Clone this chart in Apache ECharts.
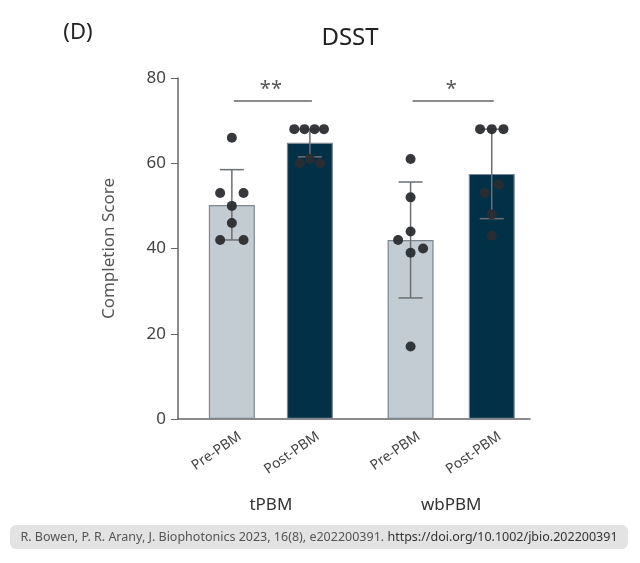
<!DOCTYPE html>
<html><head><meta charset="utf-8">
<script src="https://cdn.jsdelivr.net/npm/echarts@6/dist/echarts.min.js"></script>
<style>body{margin:0;background:#fff}#c{width:640px;height:563px}</style>
</head><body><div id="c"></div>
<script>
// data
var categories = ['Pre-PBM', 'Post-PBM', 'Pre-PBM', 'Post-PBM']
var groups = ['tPBM', 'wbPBM']
var xPos = [1, 2, 3.29, 4.33]
var means = [50.2, 64.8, 42, 57.5]
var errLow = [42, 61.5, 28.4, 47]
var errHigh = [58.5, 68, 55.6, 68]
var points = [
    [[0, 66], [-0.15, 53], [0.15, 53], [0, 50], [0, 46], [-0.15, 42], [0.15, 42]],
    [[-0.2, 68], [-0.07, 68], [0.06, 68], [0.18, 68], [-0.13, 60], [0.13, 60], [0, 61]],
    [[0, 61], [0, 52], [0, 44], [-0.16, 42], [0.16, 40], [0, 39], [0, 17]],
    [[-0.15, 68], [0, 68], [0.15, 68], [0.09, 55], [-0.09, 53], [0, 48], [0, 43]]
]
var colors = ['#c3cbd3', '#023047', '#c3cbd3', '#023047']

var chart = echarts.init(document.getElementById('c'))
var font = 'Noto Sans'
var barData = xPos.map(function (x, i) {
    return { value: [x, means[i]], itemStyle: { color: colors[i] } }
})
var dots = []
points.forEach(function (arr, i) {
    arr.forEach(function (p) { dots.push([xPos[i] + p[0], p[1]]) })
})
var errData = xPos.map(function (x, i) { return [x, errLow[i], errHigh[i]] })

var option = {
    animation: false,
    textStyle: { fontFamily: font },
    grid: { left: 178, right: 110, top: 78, bottom: 144 },
    xAxis: {
        type: 'value', min: 0.31, max: 4.82,
        axisLine: { show: true, onZero: false, lineStyle: { color: '#666', width: 1.5 } },
        axisTick: { show: false }, axisLabel: { show: false }, splitLine: { show: false }
    },
    yAxis: {
        type: 'value', min: 0, max: 80, interval: 20,
        name: 'Completion Score', nameLocation: 'middle', nameGap: 60,
        nameTextStyle: { fontSize: 17, color: '#555' },
        axisLine: { show: true, lineStyle: { color: '#666', width: 1.5 } },
        axisTick: { show: true, length: 7, lineStyle: { color: '#666' } },
        axisLabel: { fontSize: 17, color: '#444', margin: 12 },
        splitLine: { show: false }
    },
    series: [
        {
            type: 'bar', data: barData, barWidth: 46,
            itemStyle: { borderColor: '#7d8790', borderWidth: 1.2 }, z: 2
        },
        {
            type: 'custom', data: errData, z: 3,
            renderItem: function (params, api) {
                var x = api.value(0)
                var lo = api.coord([x, api.value(1)])
                var hi = api.coord([x, api.value(2)])
                var w = 12
                var st = { stroke: '#6b6f73', lineWidth: 1.5 }
                return {
                    type: 'group', children: [
                        { type: 'line', shape: { x1: lo[0], y1: lo[1], x2: hi[0], y2: hi[1] }, style: st },
                        { type: 'line', shape: { x1: lo[0] - w, y1: lo[1], x2: lo[0] + w, y2: lo[1] }, style: st },
                        { type: 'line', shape: { x1: hi[0] - w, y1: hi[1], x2: hi[0] + w, y2: hi[1] }, style: st }
                    ]
                }
            }
        },
        {
            type: 'scatter', data: dots, symbolSize: 10, z: 4,
            itemStyle: { color: '#2b2d30', opacity: 0.95 }
        }
    ]
}
chart.setOption(option)

// labels and annotations placed through the axis scale
var g = []
xPos.forEach(function (x, i) {
    var p = chart.convertToPixel({ gridIndex: 0 }, [x, 0])
    g.push({
        type: 'text', x: p[0] + 8, y: p[1] + 16, rotation: Math.PI / 5.2,
        style: { text: categories[i], fontSize: 14, fill: '#444', fontFamily: font, align: 'right', verticalAlign: 'middle' }
    })
})
for (var k = 0; k < 2; k++) {
    var a = chart.convertToPixel({ gridIndex: 0 }, [xPos[2 * k], 0])
    var b = chart.convertToPixel({ gridIndex: 0 }, [xPos[2 * k + 1], 0])
    var mid = (a[0] + b[0]) / 2
    g.push({ type: 'text', x: mid, y: 505, style: { text: groups[k], fontSize: 17, fill: '#333', fontFamily: font, align: 'center', verticalAlign: 'middle' } })
    var ly = chart.convertToPixel({ gridIndex: 0 }, [0, 74.6])[1]
    g.push({ type: 'line', shape: { x1: a[0] + 2, y1: ly, x2: b[0] + 2, y2: ly }, style: { stroke: '#666', lineWidth: 1.5 } })
    g.push({ type: 'text', x: mid, y: ly - 12, style: { text: k === 0 ? '**' : '*', fontSize: 20, fill: '#555', fontFamily: font, align: 'center', verticalAlign: 'middle' } })
}
g.push({ type: 'text', x: 350, y: 38, style: { text: 'DSST', fontSize: 24, fill: '#222', fontFamily: font, align: 'center', verticalAlign: 'middle' } })
g.push({ type: 'text', x: 78, y: 33, style: { text: '(D)', fontSize: 22, fill: '#222', fontFamily: font, align: 'center', verticalAlign: 'middle' } })
g.push({ type: 'rect', shape: { x: 10, y: 525, width: 618, height: 24, r: 6 }, style: { fill: '#e3e3e3' } })
g.push({
    type: 'text', x: 319, y: 537,
    style: { text: 'R. Bowen, P. R. Arany, J. Biophotonics 2023, 16(8), e202200391. {u|https://doi.org/10.1002/jbio.202200391}', rich: { u: { fontSize: 12.5, fill: '#333', fontFamily: font, textDecoration: 'underline' } }, fontSize: 12.5, fill: '#555', fontFamily: font, align: 'center', verticalAlign: 'middle' }
})
chart.setOption({ graphic: g })
</script></body></html>
